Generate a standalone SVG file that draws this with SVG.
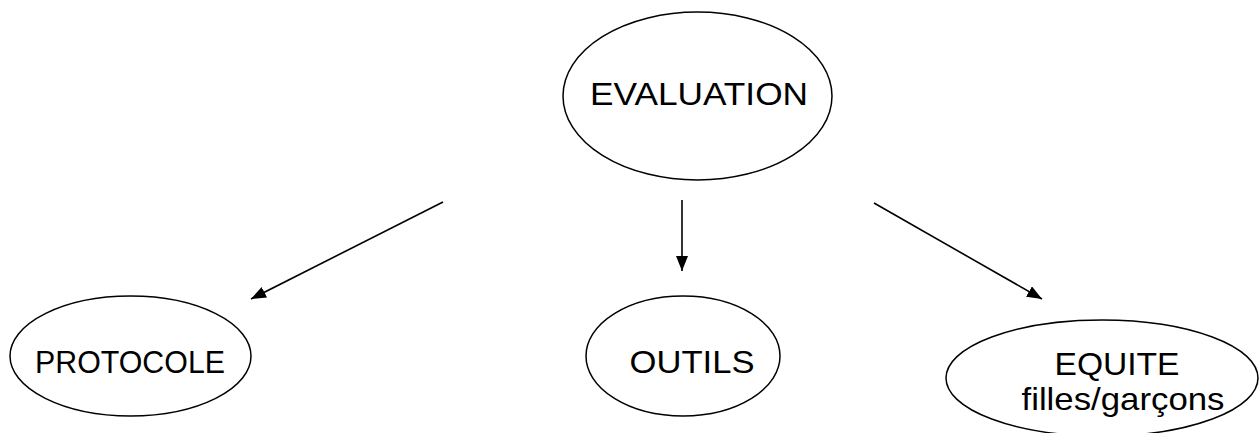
<svg xmlns="http://www.w3.org/2000/svg" width="1260" height="433" viewBox="0 0 1260 433">
<style>
.node ellipse{fill:#fff;stroke:#000;stroke-width:1.5}
.node text{font-family:"Liberation Sans",Arial,sans-serif;font-size:32px;fill:#000;text-anchor:middle}
.conn line{stroke:#000;stroke-width:1.6;marker-end:url(#ah)}
</style>
<defs>
<marker id="ah" markerWidth="16" markerHeight="14" refX="15" refY="6" orient="auto" markerUnits="userSpaceOnUse">
<path d="M0,0 L15,6 L0,12 Z" fill="#000"/>
</marker>
</defs>
<rect width="1260" height="433" fill="#fff"/>
<g id="evaluation" class="node">
<ellipse cx="697.5" cy="96" rx="134.5" ry="84"/>
<text x="699" y="105" textLength="218" lengthAdjust="spacingAndGlyphs">EVALUATION</text>
</g>
<g id="protocole" class="node">
<ellipse cx="130.5" cy="356" rx="120.5" ry="60"/>
<text x="130" y="373" textLength="190" lengthAdjust="spacingAndGlyphs">PROTOCOLE</text>
</g>
<g id="outils" class="node">
<ellipse cx="683" cy="356" rx="97" ry="60"/>
<text x="692" y="373" textLength="125" lengthAdjust="spacingAndGlyphs">OUTILS</text>
</g>
<g id="equite" class="node">
<ellipse cx="1102" cy="378" rx="156" ry="58"/>
<text x="1117" y="375" textLength="125" lengthAdjust="spacingAndGlyphs">EQUITE</text>
<text x="1123" y="410" textLength="203" lengthAdjust="spacingAndGlyphs">filles/garçons</text>
</g>
<g id="connectors" class="conn">
<line x1="443" y1="202" x2="251" y2="299"/>
<line x1="682" y1="200" x2="682" y2="271"/>
<line x1="874" y1="203" x2="1042" y2="299"/>
</g>
</svg>
